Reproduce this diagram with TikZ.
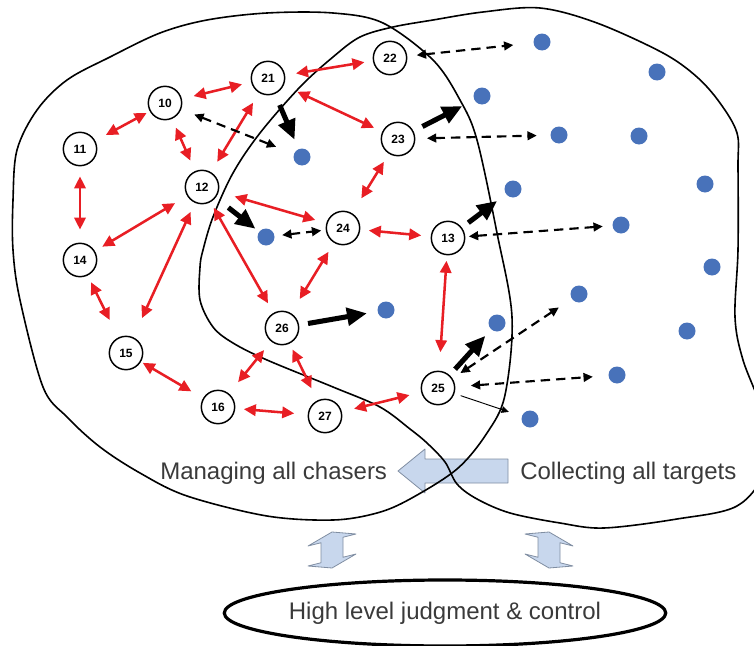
\documentclass[tikz,border=0pt]{standalone}
\usepackage{fontspec}
\setmainfont{Liberation Sans}
\usetikzlibrary{arrows.meta,shapes.geometric}

\definecolor{linkred}{RGB}{232,30,36}
\definecolor{dotblue}{RGB}{72,114,186}
\definecolor{panelfill}{RGB}{200,215,237}
\definecolor{paneledge}{RGB}{128,142,162}
\definecolor{labelgray}{RGB}{58,58,58}

\begin{document}
\begin{tikzpicture}[x=0.75pt,y=-0.75pt,
  agent/.style={circle,draw=black,line width=1.1pt,fill=white,minimum size=25pt,
    inner sep=0pt,font=\fontsize{9}{9}\selectfont\bfseries},
  target/.style={circle,fill=dotblue,minimum size=12.75pt,inner sep=0pt},
  link/.style 2 args={draw=linkred,line width=1.9pt,
    {Triangle[length=9pt,width=8.5pt]}-{Triangle[length=9pt,width=8.5pt]},
    shorten <=#1,shorten >=#2},
  push/.style 2 args={draw=black,line width=3.8pt,
    -{Triangle[length=15pt,width=13pt]},shorten <=#1,shorten >=#2},
  probe/.style 2 args={draw=black,line width=1.6pt,dash pattern=on 7pt off 4.5pt,
    {Triangle[length=7pt,width=6.5pt]}-{Triangle[length=7pt,width=6.5pt]},
    shorten <=#1,shorten >=#2},
  feeler/.style 2 args={draw=black,line width=0.7pt,
    -{Triangle[length=5.5pt,width=5pt]},shorten <=#1,shorten >=#2},
  blob/.style={draw=black,line width=1.2pt},
  panel/.style={fill=panelfill,draw=paneledge,line width=0.6pt,line join=round},
  caption/.style={font=\fontsize{18}{20}\selectfont,text=labelgray,inner sep=0pt},
  judge/.style={ellipse,draw=black,line width=2.4pt,minimum width=307.5pt,
    minimum height=49.5pt,inner sep=0pt,font=\fontsize{18}{20}\selectfont,text=labelgray}
]
\useasboundingbox (0,0) rectangle (754,646);

% block arrow from the target side to the chaser side
\draw[panel] (508,459) -- (425,459) -- (425,449) -- (398,471) -- (425,493)
  -- (425,483) -- (508,483) -- cycle;

% the two regions
\draw[blob] plot[smooth cycle,tension=0.55] coordinates {
  (13,250) (13,200) (17,150) (37,110) (67,80) (110,57) (160,33) (207,20)
  (267,13) (333,13) (383,23) (433,60) (460,100) (477,140) (497,233)
  (512,317) (505,395) (487,433) (457,469) (410,499) (377,513) (333,520)
  (267,516) (187,496) (140,473) (100,447) (67,417) (43,387) (20,300)};
\draw[blob] plot[smooth cycle,tension=0.55] coordinates {
  (203,250) (213,217) (233,173) (260,133) (300,87) (333,57) (360,37)
  (393,27) (433,20) (483,12) (540,8) (597,23) (663,53) (697,77) (720,103)
  (737,133) (738,167) (738,250) (735,317) (743,360) (765,420) (765,470)
  (737,506) (677,519) (604,528) (560,523) (510,513) (477,499) (457,484)
  (445,462) (427,443) (410,429) (380,407) (333,387) (267,360) (233,343)
  (213,327) (200,300) (200,267)};

% chasers
\node[agent] (n10) at (165,103) {10};
\node[agent] (n11) at (80,149)  {11};
\node[agent] (n12) at (202,187) {12};
\node[agent] (n13) at (448,238) {13};
\node[agent] (n14) at (80,260)  {14};
\node[agent] (n15) at (126,353) {15};
\node[agent] (n16) at (218,407) {16};
\node[agent] (n21) at (268,78)  {21};
\node[agent] (n22) at (390,58)  {22};
\node[agent] (n23) at (398,139) {23};
\node[agent] (n24) at (343,228) {24};
\node[agent] (n25) at (438,388) {25};
\node[agent] (n26) at (282,328) {26};
\node[agent] (n27) at (325,416) {27};

% targets
\node[target] (t1)  at (542,42)  {};
\node[target] (t2)  at (657,72)  {};
\node[target] (t3)  at (482,96)  {};
\node[target] (t4)  at (559,135) {};
\node[target] (t5)  at (639,136) {};
\node[target] (t6)  at (302,157) {};
\node[target] (t7)  at (513,189) {};
\node[target] (t8)  at (705,184) {};
\node[target] (t9)  at (621,225) {};
\node[target] (t10) at (266,237) {};
\node[target] (t11) at (712,267) {};
\node[target] (t12) at (579,294) {};
\node[target] (t13) at (386,310) {};
\node[target] (t14) at (687,331) {};
\node[target] (t15) at (497,323) {};
\node[target] (t16) at (617,375) {};
\node[target] (t17) at (530,419) {};

% communication between chasers
\draw[link={9pt}{7pt}]       (n10) -- (n21);
\draw[link={8.25pt}{6.4pt}]  (n21) -- (n22);
\draw[link={11.25pt}{6.75pt}](n21) -- (n23);
\draw[link={8.6pt}{9pt}]     (n21) -- (n12);
\draw[link={2.6pt}{9pt}]     (n10) -- (n11);
\draw[link={7.1pt}{8.6pt}]   (n10) -- (n12);
\draw[link={7.5pt}{9.75pt}]  (n11) -- (n14);
\draw[link={10.5pt}{6.4pt}]  (n12) -- (n14);
\draw[link={7.5pt}{15.75pt}] (n12) -- (n15);
\draw[link={12.4pt}{8.6pt}]  (n12) -- (n24);
\draw[link={4.9pt}{8.25pt}]  (n12) -- (n26);
\draw[link={7.1pt}{13.1pt}]  (n23) -- (n24);
\draw[link={6.4pt}{7.1pt}]   (n24) -- (n13);
\draw[link={7.9pt}{12.4pt}]  (n24) -- (n26);
\draw[link={4.1pt}{13.9pt}]  (n13) -- (n25);
\draw[link={5.6pt}{14.6pt}]  (n14) -- (n15);
\draw[link={1.5pt}{10.1pt}]  (n15) -- (n16);
\draw[link={10.9pt}{8.25pt}] (n16) -- (n26);
\draw[link={6.4pt}{10.1pt}]  (n16) -- (n27);
\draw[link={4.9pt}{10.1pt}]  (n26) -- (n27);
\draw[link={9.4pt}{9pt}]     (n27) -- (n25);

% chasers committed to a target
\draw[push={9pt}{7.5pt}]   (n21) -- (t6);
\draw[push={12pt}{3.4pt}]  (n12) -- (t10);
\draw[push={7.5pt}{10pt}]  (n23) -- (t3);
\draw[push={6pt}{8.25pt}]  (n13) -- (t7);
\draw[push={6.75pt}{7.9pt}](n26) -- (t13);
\draw[push={6pt}{6.4pt}]   (n25) -- (t15);

% chasers probing other targets
\draw[probe={10.5pt}{14.25pt}] (n10) -- (t6);
\draw[probe={5.6pt}{3.4pt}]    (t10) -- (n24);
\draw[probe={7.1pt}{15pt}]     (n22) -- (t1);
\draw[probe={8.6pt}{10.1pt}]   (n23) -- (t4);
\draw[probe={2.6pt}{7.1pt}]    (n13) -- (t9);
\draw[probe={7.1pt}{11.6pt}]   (n25) -- (t12);
\draw[probe={11.6pt}{11.6pt}]  (n25) -- (t16);
\draw[feeler={4.9pt}{10.1pt}]  (n25) -- (t17);

% region captions
\node[caption,anchor=base west] (mgr) at (160,479) {Managing all chasers};
\node[caption,anchor=base west] (col) at (520,479) {Collecting all targets};

% exchange with the top level
\begin{scope}[shift={(332,550)},yslant=0.25]
  \draw[panel] (0,-18) -- (24,-10) -- (11,-10) -- (11,10) -- (24,10) -- (0,18)
    -- (-24,10) -- (-11,10) -- (-11,-10) -- (-24,-10) -- cycle;
\end{scope}
\begin{scope}[shift={(549,550)},yslant=-0.25]
  \draw[panel] (0,-18) -- (24,-10) -- (11,-10) -- (11,10) -- (24,10) -- (0,18)
    -- (-24,10) -- (-11,10) -- (-11,-10) -- (-24,-10) -- cycle;
\end{scope}

\node[judge] (top) at (445,613) {High level judgment \& control};
\end{tikzpicture}
\end{document}
